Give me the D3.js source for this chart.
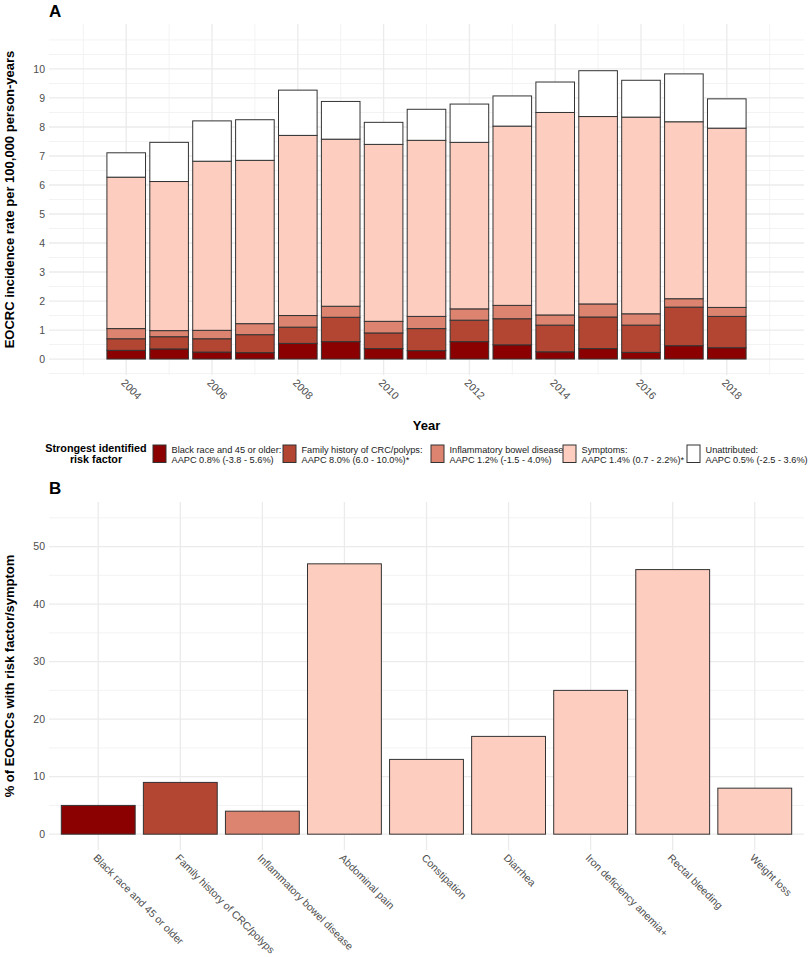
<!DOCTYPE html>
<html>
<head>
<meta charset="utf-8">
<script src="https://cdn.jsdelivr.net/npm/d3@7"></script>
<style>
  body { margin: 0; background: #fff; font-family: "Liberation Sans", Arial, sans-serif; }
  svg text { font-family: "Liberation Sans", Arial, sans-serif; }
</style>
</head>
<body>
<div class="chart"></div>
<script>
// panel A data: incidence per 100,000 by strongest risk factor
var years = [2004, 2005, 2006, 2007, 2008, 2009, 2010, 2011, 2012, 2013, 2014, 2015, 2016, 2017, 2018];
var blackRace    = [0.30, 0.35, 0.24, 0.22, 0.54, 0.60, 0.36, 0.29, 0.60, 0.49, 0.25, 0.36, 0.23, 0.46, 0.39];
var familyHist   = [0.40, 0.42, 0.46, 0.62, 0.56, 0.84, 0.54, 0.76, 0.74, 0.90, 0.92, 1.09, 0.94, 1.33, 1.08];
var ibdRisk      = [0.35, 0.21, 0.29, 0.38, 0.40, 0.38, 0.40, 0.42, 0.39, 0.46, 0.35, 0.45, 0.39, 0.29, 0.31];
var symptoms     = [5.22, 5.14, 5.83, 5.63, 6.21, 5.76, 6.10, 6.07, 5.74, 6.18, 6.98, 6.46, 6.78, 6.10, 6.18];
var unattributed = [0.84, 1.35, 1.39, 1.40, 1.56, 1.30, 0.76, 1.07, 1.32, 1.04, 1.05, 1.58, 1.27, 1.65, 1.01];

var seriesKeys = ["black", "family", "ibd", "symptoms", "unattributed"];
var legendLine1 = ["Black race and 45 or older:", "Family history of CRC/polyps:", "Inflammatory bowel disease:", "Symptoms:", "Unattributed:"];
var legendLine2 = ["AAPC 0.8% (-3.8 - 5.6%)", "AAPC 8.0% (6.0 - 10.0%)*", "AAPC 1.2% (-1.5 - 4.0%)", "AAPC 1.4% (0.7 - 2.2%)*", "AAPC 0.5% (-2.5 - 3.6%)"];
var fillColors = ["#8b0000", "#b34533", "#dc8470", "#fdcdbf", "#ffffff"];

// panel B data
var categoriesB = ["Black race and 45 or older", "Family history of CRC/polyps", "Inflammatory bowel disease",
  "Abdominal pain", "Constipation", "Diarrhea", "Iron deficiency anemia+", "Rectal bleeding", "Weight loss"];
var percentB = [5, 9, 4, 47, 13, 17, 25, 46, 8];
var groupB = ["black", "family", "ibd", "symptoms", "symptoms", "symptoms", "symptoms", "symptoms", "symptoms"];

var W = 808, H = 957;
var color = d3.scaleOrdinal().domain(seriesKeys).range(fillColors);

const svg = d3.select(".chart").append("svg")
  .attr("width", W).attr("height", H);

var gridMajor = "#ebebeb", gridMinor = "#f3f3f3", tickCol = "#4d4d4d";

// ---------- Panel A ----------
var pa = { left: 49, right: 804, top: 24, bottom: 375 };

var xA = d3.scaleLinear().domain([2002.2, 2019.8]).range([pa.left, pa.right]);
var yA = d3.scaleLinear().domain([-0.55, 11.55]).range([pa.bottom, pa.top]);
var barW = xA(2004.9) - xA(2004);

var gA = svg.append("g");

// minor grid
gA.selectAll(".hminor").data(d3.range(-0.5, 11.01, 1).concat([11]))
  .enter().append("line")
  .attr("x1", pa.left).attr("x2", pa.right)
  .attr("y1", (d) => yA(d)).attr("y2", (d) => yA(d))
  .attr("stroke", gridMinor).attr("stroke-width", 1);
gA.selectAll(".vminor").data(d3.range(2003, 2020, 2))
  .enter().append("line")
  .attr("x1", (d) => xA(d)).attr("x2", (d) => xA(d))
  .attr("y1", pa.top).attr("y2", pa.bottom)
  .attr("stroke", gridMinor).attr("stroke-width", 1);
// major grid
var yTicksA = d3.range(0, 11, 1);
gA.selectAll(".hmajor").data(yTicksA)
  .enter().append("line")
  .attr("x1", pa.left).attr("x2", pa.right)
  .attr("y1", (d) => yA(d)).attr("y2", (d) => yA(d))
  .attr("stroke", gridMajor).attr("stroke-width", 1.3);
var xTicksA = d3.range(2004, 2019, 2);
gA.selectAll(".vmajor").data(xTicksA)
  .enter().append("line")
  .attr("x1", (d) => xA(d)).attr("x2", (d) => xA(d))
  .attr("y1", pa.top).attr("y2", pa.bottom)
  .attr("stroke", gridMajor).attr("stroke-width", 1.3);

// stacked bars
var tableA = years.map(function (y, i) {
  return { year: y, black: blackRace[i], family: familyHist[i], ibd: ibdRisk[i],
    symptoms: symptoms[i], unattributed: unattributed[i] };
});
var stacked = d3.stack().keys(seriesKeys)(tableA);

gA.selectAll(".layer").data(stacked)
  .enter().append("g")
  .attr("fill", (d) => color(d.key))
  .selectAll("rect").data((d) => d)
  .enter().append("rect")
  .attr("x", (d) => xA(d.data.year) - barW / 2)
  .attr("width", barW)
  .attr("y", (d) => yA(d[1]))
  .attr("height", (d) => yA(d[0]) - yA(d[1]))
  .attr("stroke", "#333")
  .attr("stroke-width", 1);

// axes (text only, like theme_minimal)
gA.selectAll(".ylab").data(yTicksA)
  .enter().append("text")
  .attr("x", pa.left - 4).attr("y", (d) => yA(d))
  .attr("dy", "0.35em").attr("text-anchor", "end")
  .attr("font-size", 10.5).attr("fill", tickCol)
  .text((d) => d);

gA.selectAll(".xlab").data(xTicksA)
  .enter().append("text")
  .attr("transform", (d) => "translate(" + (xA(d) - 3) + "," + (pa.bottom + 6) + ") rotate(45)")
  .attr("dy", "0.35em")
  .attr("font-size", 10.5).attr("fill", tickCol)
  .text((d) => d);

gA.append("text")
  .attr("transform", "translate(14," + (pa.top + pa.bottom) / 2 + ") rotate(-90)")
  .attr("text-anchor", "middle")
  .attr("font-size", 13).attr("font-weight", "bold")
  .text("EOCRC incidence rate per 100,000 person-years");

gA.append("text")
  .attr("x", (pa.left + pa.right) / 2).attr("y", 430)
  .attr("text-anchor", "middle")
  .attr("font-size", 13).attr("font-weight", "bold")
  .text("Year");

svg.append("text").attr("x", 49).attr("y", 17)
  .attr("font-size", 17).attr("font-weight", "bold").text("A");

// legend
var legend = svg.append("g");
legend.append("text")
  .attr("x", 96).attr("y", 451.5)
  .attr("text-anchor", "middle")
  .attr("font-size", 10.8).attr("font-weight", "bold")
  .selectAll("tspan").data(["Strongest identified", "risk factor"])
  .enter().append("tspan")
  .attr("x", 96).attr("dy", (d, i) => (i === 0 ? 0 : 11.5))
  .text((d) => d);

var keyX = [153, 283, 431, 563, 687];
var items = legend.selectAll(".item").data(seriesKeys)
  .enter().append("g")
  .attr("transform", (d, i) => "translate(" + keyX[i] + ",445)");
items.append("rect")
  .attr("width", 13).attr("height", 17.5)
  .attr("fill", (d) => color(d))
  .attr("stroke", "#333").attr("stroke-width", 1);
items.append("text")
  .attr("x", 18.5).attr("y", 8)
  .attr("font-size", 9.2).attr("fill", "#1a1a1a")
  .text((d, i) => legendLine1[i]);
items.append("text")
  .attr("x", 18.5).attr("y", 18)
  .attr("font-size", 9.2).attr("fill", "#1a1a1a")
  .text((d, i) => legendLine2[i]);

// ---------- Panel B ----------
var pb = { left: 49, right: 804, top: 502, bottom: 850 };

var xB = d3.scaleBand().domain(categoriesB).range([pb.left, pb.right])
  .paddingInner(0.1).paddingOuter(0.15);
var yB = d3.scaleLinear().domain([-2.75, 57.75]).range([pb.bottom, pb.top]);

var gB = svg.append("g");
gB.selectAll(".hminor").data(d3.range(5, 56, 10))
  .enter().append("line")
  .attr("x1", pb.left).attr("x2", pb.right)
  .attr("y1", (d) => yB(d)).attr("y2", (d) => yB(d))
  .attr("stroke", gridMinor).attr("stroke-width", 1);
var yTicksB = d3.range(0, 51, 10);
gB.selectAll(".hmajor").data(yTicksB)
  .enter().append("line")
  .attr("x1", pb.left).attr("x2", pb.right)
  .attr("y1", (d) => yB(d)).attr("y2", (d) => yB(d))
  .attr("stroke", gridMajor).attr("stroke-width", 1.3);
gB.selectAll(".vmajor").data(categoriesB)
  .enter().append("line")
  .attr("x1", (d) => xB(d) + xB.bandwidth() / 2).attr("x2", (d) => xB(d) + xB.bandwidth() / 2)
  .attr("y1", pb.top).attr("y2", pb.bottom)
  .attr("stroke", gridMajor).attr("stroke-width", 1.3);

gB.selectAll("rect").data(categoriesB)
  .enter().append("rect")
  .attr("x", (d) => xB(d))
  .attr("width", xB.bandwidth())
  .attr("y", (d, i) => yB(percentB[i]))
  .attr("height", (d, i) => yB(0) - yB(percentB[i]))
  .attr("fill", (d, i) => color(groupB[i]))
  .attr("stroke", "#333").attr("stroke-width", 1);

gB.selectAll(".ylab").data(yTicksB)
  .enter().append("text")
  .attr("x", pb.left - 4).attr("y", (d) => yB(d))
  .attr("dy", "0.35em").attr("text-anchor", "end")
  .attr("font-size", 10.5).attr("fill", tickCol)
  .text((d) => d);

gB.selectAll(".xlab").data(categoriesB)
  .enter().append("text")
  .attr("transform", (d) => "translate(" + (xB(d) + xB.bandwidth() / 2 - 3) + "," + (pb.bottom + 6) + ") rotate(45)")
  .attr("dy", "0.35em")
  .attr("font-size", 10.5).attr("fill", tickCol)
  .text((d) => d);

gB.append("text")
  .attr("transform", "translate(14," + (pb.top + pb.bottom) / 2 + ") rotate(-90)")
  .attr("text-anchor", "middle")
  .attr("font-size", 13).attr("font-weight", "bold")
  .text("% of EOCRCs with risk factor/symptom");

svg.append("text").attr("x", 49).attr("y", 494)
  .attr("font-size", 17).attr("font-weight", "bold").text("B");
</script>
</body>
</html>
